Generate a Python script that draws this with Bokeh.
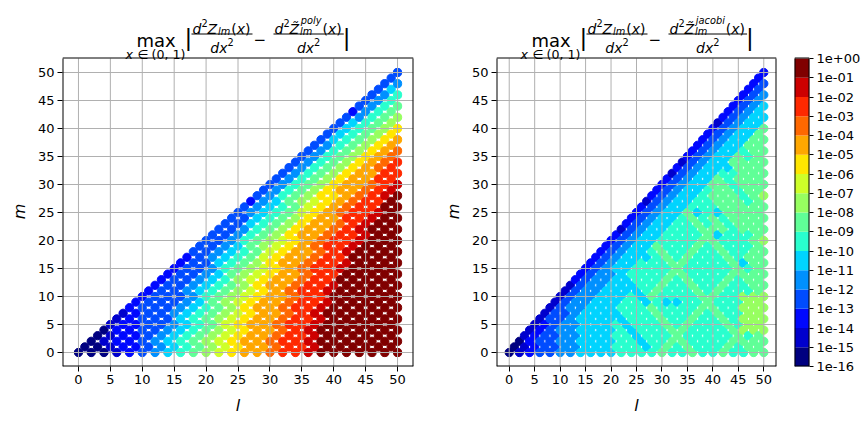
from bokeh.plotting import figure
from bokeh.models import ColumnDataSource, LinearColorMapper, FixedTicker, Range1d
from bokeh.layouts import row
from bokeh.embed import file_html
from bokeh.resources import INLINE
from bokeh.core.properties import value

L_MAX = 50
AXIS_TICKS = [0, 5, 10, 15, 20, 25, 30, 35, 40, 45, 50]

# Error level per point: hex digit k means max error in [1e(k-16), 1e(k-15)).
# Row index is m; characters run over l = m, m+2, m+4, ... <= 50.
POLY_ROWS = [
    "000123456789abbcddefffffff",
    "001223456789abbcddeffffff",
    "01223456789abbcddefffffff",
    "01223456789abbcddeffffff",
    "02233456789abbcdefffffff",
    "1223345679abbcddeffffff",
    "1233356789abbcddeffffff",
    "1233456789abbcdeffffff",
    "233345678abbcddeffffff",
    "233345789abbcddefffff",
    "233346789abbcddffffff",
    "233456789abcddefffff",
    "23345678abbcddefffff",
    "23345689abbcddfffff",
    "23345789abbcddfffff",
    "23346789abcddeffff",
    "2335678abbcddeffff",
    "2345679abbcddffff",
    "3345679abbcdeffff",
    "3345789abcddefff",
    "3346789abcddefff",
    "334678abbcddeff",
    "334678abbcdefff",
    "335678abbcdeff",
    "335678abbddeff",
    "345679abcddef",
    "345679abcddff",
    "245789abcddf",
    "34678aabcdef",
    "34678abbcde",
    "34678abbcde",
    "34678abbdd",
    "34678abbdd",
    "34678abcd",
    "34678abcd",
    "34678abc",
    "34678abc",
    "34678ab",
    "35678ab",
    "35678a",
    "35678a",
    "35678",
    "34678",
    "2467",
    "3467",
    "346",
    "346",
    "35",
    "34",
    "3",
    "3",
]

JACOBI_ROWS = [
    "01233445555666676676676677",
    "0123344555666567676667677",
    "0233445555665667766667777",
    "123344555665666766666767",
    "123445555656667766667888",
    "12344555656667676667688",
    "13345555566676676676888",
    "1334555566676667676688",
    "1344555666766667766888",
    "134455566565566766688",
    "134455565766667766888",
    "13445555676667676667",
    "13445556676676676677",
    "2344556667676667677",
    "2344566667766667777",
    "234556666766666767",
    "234556667766667577",
    "23455567676667677",
    "23455676676676677",
    "2345576667676667",
    "2345566667766678",
    "234556666756667",
    "134556667776777",
    "23455667676777",
    "23455676767777",
    "2345575657777",
    "2345566677777",
    "134556677767",
    "234556777678",
    "23455677677",
    "23455776777",
    "2345576777",
    "1345566777",
    "234555777",
    "134557777",
    "23455767",
    "23455677",
    "2345577",
    "2345577",
    "234557",
    "234557",
    "13455",
    "23455",
    "2345",
    "2345",
    "234",
    "234",
    "23",
    "23",
    "2",
    "2",
]

CBAR_TICKS = list(range(-16, 1))
CBAR_LABELS = ["1e-16", "1e-15", "1e-14", "1e-13", "1e-12", "1e-11", "1e-10", "1e-09",
               "1e-08", "1e-07", "1e-06", "1e-05", "1e-04", "1e-03", "1e-02", "1e-01", "1e+00"]

JET16 = ["#000080", "#0000cd", "#0008ff", "#004cff", "#0090ff", "#00d4ff", "#29ffce", "#60ff97",
         "#97ff60", "#ceff29", "#ffe600", "#ffa700", "#ff6800", "#ff2900", "#cd0000", "#800000"]

FONT = "DejaVu Sans"
AX_H = 308          # height of the plotting box in px
TOP = 58            # room above the box for the formula
FRAME_H = AX_H + TOP
BOTTOM = 57
LO, HI = -2.5, 52.5
GRID_COLOR = "#b0b0b0"
# the y label is centred on the whole frame; trailing no-break spaces move it to the box centre
Y_LABEL = "m" + "\u00a0" * 11

mapper = LinearColorMapper(palette=JET16, low=-16, high=0)


def level_source(rows):
    grid = {}
    for m, s in enumerate(rows):
        for i, ch in enumerate(s[:(L_MAX - m) // 2 + 1]):
            grid[(m + 2 * i, m)] = -16 + int(ch, 16) + 0.5
    ls, ms, logerr = [], [], []
    # scatter order: l outer, m inner
    for l in range(L_MAX + 1):
        for m in range(l % 2, l + 1, 2):
            if (l, m) in grid:
                ls.append(l)
                ms.append(m)
                logerr.append(grid[(l, m)])
    return ColumnDataSource(dict(l=ls, m=ms, logerr=logerr))


def style_axis(ax):
    ax.major_tick_out = 5
    ax.major_tick_in = 0
    ax.minor_tick_out = 0
    ax.minor_tick_in = 0
    ax.axis_line_color = None
    ax.major_tick_line_color = "black"
    ax.major_label_text_font = FONT
    ax.major_label_text_font_size = "13px"
    ax.major_label_text_color = "black"
    ax.major_label_standoff = 3


def panel(rows, frame_w, border_l, border_r):
    per_px = (HI - LO) / AX_H
    p = figure(frame_width=frame_w, frame_height=FRAME_H, x_range=Range1d(LO, HI),
               y_range=Range1d(LO, LO + FRAME_H * per_px), toolbar_location=None,
               output_backend="svg", min_border_left=border_l, min_border_right=border_r,
               min_border_top=0, min_border_bottom=BOTTOM)
    p.grid.visible = False
    p.outline_line_color = None
    p.scatter("l", "m", source=level_source(rows), size=8.3, line_width=1,
              fill_color={"field": "logerr", "transform": mapper},
              line_color={"field": "logerr", "transform": mapper})
    # grid lines on top of the markers
    n = len(AXIS_TICKS)
    p.segment(x0=AXIS_TICKS, y0=[LO] * n, x1=AXIS_TICKS, y1=[HI] * n,
              line_color=GRID_COLOR, line_width=1)
    p.segment(x0=[LO] * n, y0=AXIS_TICKS, x1=[HI] * n, y1=AXIS_TICKS,
              line_color=GRID_COLOR, line_width=1)
    # box around the plotting area (edges on the frame border are half clipped)
    p.segment(x0=[LO, LO, HI], y0=[LO, LO, LO], x1=[HI, LO, HI], y1=[LO, HI, HI],
              line_color="black", line_width=2)
    top = HI + 0.5 * per_px
    p.segment(x0=[LO], y0=[top], x1=[HI], y1=[top], line_color="black", line_width=1)
    for ax in (p.xaxis, p.yaxis):
        ax.ticker = FixedTicker(ticks=AXIS_TICKS)
        ax.bounds = (LO, HI)
        style_axis(ax)
        ax.axis_label_text_font = FONT
        ax.axis_label_text_font_style = "italic"
        ax.axis_label_text_font_size = "16px"
        ax.axis_label_text_color = "black"
    p.xaxis.axis_label = "l"
    p.yaxis.axis_label = Y_LABEL
    p.xaxis.axis_label_standoff = 9
    p.yaxis.axis_label_standoff = 6
    return p


# approximate advance widths (em) of DejaVu Sans glyphs, for laying out the formula
ADV = {"d": 0.635, "Z": 0.685, "x": 0.592, "(": 0.390, ")": 0.390, "l": 0.278, "m": 0.974,
       "2": 0.636, "p": 0.635, "o": 0.612, "y": 0.592, "j": 0.278, "a": 0.613, "c": 0.550,
       "b": 0.635, "i": 0.278}
BASE = 14
SCRIPT = 9.8


def adv(s, size):
    return sum(ADV[c] for c in s) * size


def add_title(p, frame_left, frame_w, num_x, sup_name):
    """max |d2Z/dx2 - d2Z~/dx2| above the box; x in page px, y in px from the page top."""
    sx = (HI - LO) / frame_w
    sy = (HI - LO) / AX_H

    def X(xc):
        return LO + (xc - frame_left) * sx

    def Y(yc):
        return LO + (FRAME_H - yc) * sy

    def txt(x, y, s, size, style="normal"):
        p.text(x=[X(x)], y=[Y(y)], text=[s], text_font=value(FONT), text_font_size=f"{size}px",
               text_font_style=style, text_color="black", text_align="left",
               text_baseline="alphabetic")

    def bar(x0, x1, y):
        p.segment(x0=[X(x0)], y0=[Y(y)], x1=[X(x1)], y1=[Y(y)], line_color="black", line_width=1)

    def numerator(x, sup):
        nb = 28
        txt(x, nb, "d", BASE, "italic")
        x += adv("d", BASE)
        txt(x, nb - 6, "2", SCRIPT)
        x += adv("2", SCRIPT)
        txt(x, nb, "Z\u0303" if sup else "Z", BASE, "italic")
        x += adv("Z", BASE) + 0.8
        txt(x, nb + 3, "lm", SCRIPT, "italic")
        if sup:
            txt(x + 0.8, nb - 8, sup, SCRIPT, "italic")
        x += max(adv("lm", SCRIPT), adv(sup, SCRIPT) + 0.8 if sup else 0) + 1
        txt(x, nb, "(", BASE)
        x += adv("(", BASE)
        txt(x, nb, "x", BASE, "italic")
        x += adv("x", BASE)
        txt(x, nb, ")", BASE)
        return x + adv(")", BASE)

    def fraction(x, sup):
        end = numerator(x, sup)
        bar(x - 1, end + 2, 33.5)
        dw = adv("dx", BASE) + adv("2", SCRIPT)
        dx0 = (x - 1 + end + 2) / 2 - dw / 2
        txt(dx0, 47, "d", BASE, "italic")
        txt(dx0 + adv("d", BASE), 47, "x", BASE, "italic")
        txt(dx0 + adv("dx", BASE), 41, "2", SCRIPT)
        return end

    max_x = num_x - 56
    txt(max_x, 40, "max", 18)
    txt(max_x - 11, 54, "x", 12.6, "italic")
    txt(max_x + 1, 54, "\u2208", 12.6)
    txt(max_x + 15, 54, "(0, 1)", 12.6)
    txt(num_x - 8, 37.6, "|", 23)
    end1 = fraction(num_x, None)
    txt(end1 + 3, 38, "\u2212", 15)
    end2 = fraction(end1 + 24, sup_name)
    txt(end2 + 1, 37.6, "|", 23)


left = panel(POLY_ROWS, 351, 62, 27)
add_title(left, 62, 351, 192, "poly")
right = panel(JACOBI_ROWS, 280, 45, 18)
add_title(right, 485, 280, 576, "jacobi")

# colour bar: one quad per decade, labelled at the decade boundaries
cb_per_px = 16 / AX_H
cb = figure(frame_width=15, frame_height=FRAME_H, x_range=Range1d(0, 1),
            y_range=Range1d(-16, -16 + FRAME_H * cb_per_px), toolbar_location=None,
            output_backend="svg", min_border_left=0, min_border_right=66, min_border_top=0,
            min_border_bottom=BOTTOM, x_axis_location=None, y_axis_location="right")
cb.grid.visible = False
cb.outline_line_color = None
cb.quad(left=0, right=1, bottom=CBAR_TICKS[:-1], top=CBAR_TICKS[1:],
        fill_color={"field": "bottom", "transform": mapper}, line_color=None)
cb.segment(x0=[0, 0, 1], y0=[-16, -16, -16], x1=[1, 0, 1], y1=[-16, 0, 0],
           line_color="black", line_width=2)
cb.segment(x0=[0], y0=[0.5 * cb_per_px], x1=[1], y1=[0.5 * cb_per_px], line_color="black",
           line_width=1)
cb.yaxis.ticker = FixedTicker(ticks=CBAR_TICKS)
cb.yaxis.bounds = (-16, 0)
cb.yaxis.major_label_overrides = {t: s for t, s in zip(CBAR_TICKS, CBAR_LABELS)}
style_axis(cb.yaxis)
cb.yaxis.major_tick_out = 4

page = row(left, right, cb)
open("out.html", "w").write(file_html(page, INLINE))
